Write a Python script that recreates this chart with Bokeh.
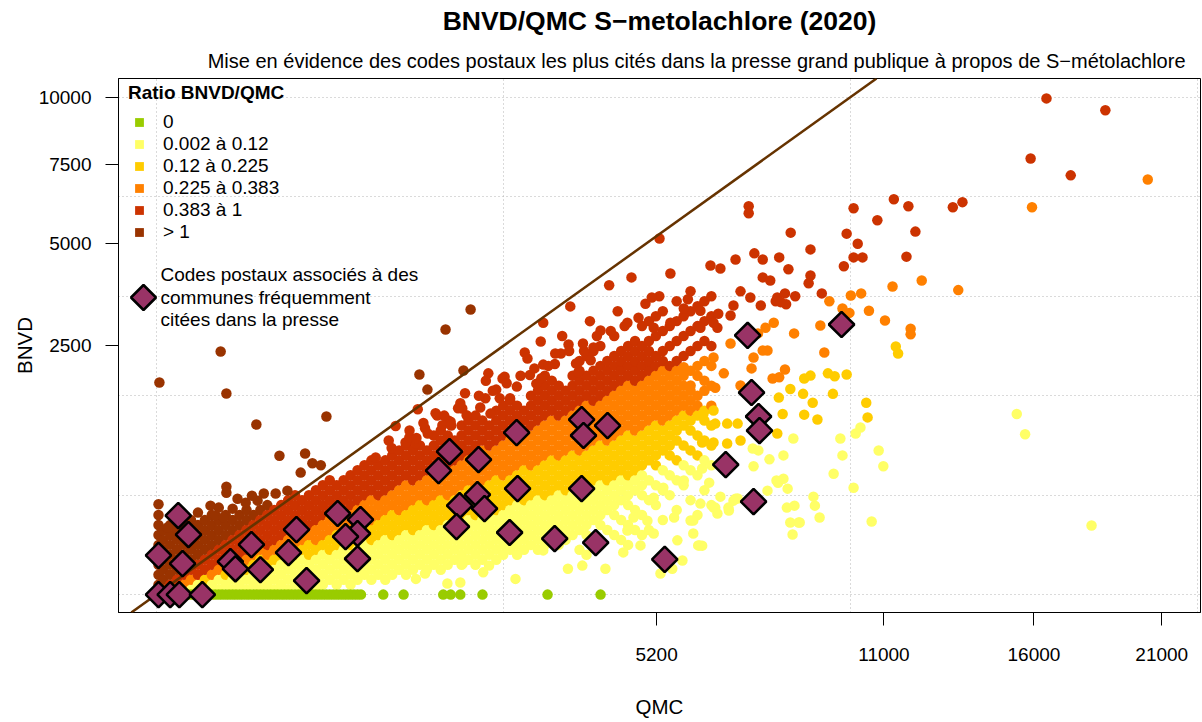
import numpy as np
from bokeh.plotting import figure
from bokeh.models import (ColumnDataSource, Range1d, FixedTicker, CustomJSTickFormatter,
                          Legend, LegendItem, Label, Slope, Title, PolyAnnotation)
from bokeh.embed import file_html
from bokeh.resources import INLINE

FONT = "Liberation Sans"

# ---------------- data ----------------
title_text = "BNVD/QMC S\u2212metolachlore (2020)"
subtitle_text = ("Mise en évidence des codes postaux les plus cités dans la presse "
                 "grand publique à propos de S\u2212métolachlore")
x_label = "QMC"
y_label = "BNVD"

ratio_labels = ["0", "0.002 à 0.12", "0.12 à 0.225", "0.225 à 0.383", "0.383 à 1", "> 1"]
ratio_breaks = [0.12, 0.225, 0.383, 1.0]
ratio_colors = ["#99CC00", "#FFFF66", "#FFCC00", "#FF8000", "#CC3300", "#993300"]
press_label = ["Codes postaux associés à des", "communes fréquemment", "citées dans la presse"]

x_tick_values = [5200, 11000, 16000, 21000]
y_tick_values = [2500, 5000, 7500, 10000]
x_grid_values = [0, 2500, 10000, 22500]
y_grid_values = [0, 400, 1600, 3600, 6400, 10000]

# postcodes with BNVD = 0 (QMC values)
zero_qmc = [0.3, 1, 2.3, 4, 6.3, 9, 12, 16, 20, 25, 30, 36, 42, 49, 56, 64, 72, 81, 90, 100,
            110, 121, 132, 144, 156, 169, 182, 196, 210, 225, 240, 256, 272, 289, 306, 324,
            342, 361, 380, 400, 420, 441, 462, 484, 506, 529, 552, 576, 600, 625, 650, 676,
            702, 729, 756, 784, 812, 841, 870, 1070, 1270, 1710, 1800, 1920, 2210, 3180, 4100]

# dense cloud: (QMC, [BNVD of the postcodes sharing about this QMC])
band_origin = [
    (0.1, [4, 16, 36, 64, 100, 144, 196]),
    (1, [1, 9, 25, 49, 81, 121, 169]),
    (4, [4, 16, 36, 64, 100, 144, 196]),
    (9, [1, 9, 25, 49, 81, 121, 169]),
    (16, [4, 16, 36, 64, 100, 144, 196]),
    (25, [1, 9, 25, 49, 81, 121, 169, 225]),
    (36, [4, 16, 36, 64, 100, 144, 196]),
    (49, [1, 9, 25, 49, 81, 121, 169, 225]),
    (64, [4, 16, 36, 64, 100, 144, 196, 256]),
    (81, [1, 9, 25, 49, 81, 121, 169, 225]),
    (100, [4, 16, 36, 64, 100, 144, 196, 256]),
    (121, [1, 9, 25, 49, 81, 121, 169, 225]),
    (144, [4, 16, 36, 64, 100, 144, 196, 256]),
    (169, [1, 9, 25, 49, 81, 121, 169, 225, 289]),
    (196, [4, 16, 36, 64, 100, 144, 196, 256]),
    (225, [1, 9, 25, 49, 81, 121, 169, 225, 289]),
    (256, [4, 16, 36, 64, 100, 144, 196, 256, 324]),
    (289, [1, 9, 25, 49, 81, 121, 169, 225, 289]),
    (324, [4, 16, 36, 64, 100, 144, 196, 256, 324]),
    (361, [1, 9, 25, 49, 81, 121, 169, 225, 289, 361]),
    (400, [4, 16, 36, 64, 100, 144, 196, 256, 324, 400]),
]
band_middle = [
    (441, [1, 9, 25, 49, 81, 121, 169, 225, 289, 361]),
    (484, [4, 16, 36, 64, 100, 144, 196, 256, 324, 400]),
    (529, [1, 9, 25, 49, 81, 121, 169, 225, 289, 361, 441]),
    (576, [4, 16, 36, 64, 100, 144, 196, 256, 324, 400, 484]),
    (625, [9, 25, 49, 81, 121, 169, 225, 289, 361, 441, 529]),
    (676, [4, 16, 36, 64, 100, 144, 196, 256, 324, 400, 484]),
    (729, [9, 25, 49, 81, 121, 169, 225, 289, 361, 441, 529]),
    (784, [4, 16, 36, 64, 100, 144, 196, 256, 324, 400, 484, 576]),
    (841, [9, 25, 49, 81, 121, 169, 225, 289, 361, 441, 529, 625]),
    (900, [16, 36, 64, 100, 144, 196, 256, 324, 400, 484, 576, 676]),
    (961, [9, 25, 49, 81, 121, 169, 225, 289, 361, 441, 529, 625, 729]),
    (1024, [16, 36, 64, 100, 144, 196, 256, 324, 400, 484, 576, 676]),
    (1089, [9, 25, 49, 81, 121, 169, 225, 289, 361, 441, 529, 625, 729]),
    (1156, [16, 36, 64, 100, 144, 196, 256, 324, 400, 484, 576, 676, 784]),
    (1225, [25, 49, 81, 121, 169, 225, 289, 361, 441, 529, 625, 729, 841]),
    (1296, [16, 36, 64, 100, 144, 196, 256, 324, 400, 484, 576, 676, 784, 900]),
    (1369, [25, 49, 81, 121, 169, 225, 289, 361, 441, 529, 625, 729, 841, 961]),
    (1444, [36, 64, 100, 144, 196, 256, 324, 400, 484, 576, 676, 784, 900]),
    (1521, [25, 49, 81, 121, 169, 225, 289, 361, 441, 529, 625, 729, 841]),
    (1600, [36, 64, 100, 144, 196, 256, 324, 400, 484, 576, 676, 784, 900, 1024]),
]
band_upper = [
    (1681, [25, 49, 81, 121, 169, 225, 289, 361, 441, 529, 625, 729, 841, 961, 1089]),
    (1764, [36, 64, 100, 144, 196, 256, 324, 400, 484, 576, 676, 784, 900, 1024]),
    (1849, [49, 81, 121, 169, 225, 289, 361, 441, 529, 625, 729, 841, 961]),
    (1936, [36, 64, 100, 144, 196, 256, 324, 400, 484, 576, 676, 784, 900, 1024, 1156]),
    (2025, [49, 81, 121, 169, 225, 289, 361, 441, 529, 625, 729, 841, 961, 1089, 1225]),
    (2116, [36, 64, 100, 144, 196, 256, 324, 400, 484, 576, 676, 784, 900, 1024, 1156, 1296]),
    (2209, [49, 81, 121, 169, 225, 289, 361, 441, 529, 625, 729, 841, 961, 1089, 1225]),
    (2304, [64, 100, 144, 196, 256, 324, 400, 484, 576, 676, 784, 900, 1024, 1156]),
    (2401, [49, 81, 121, 169, 225, 289, 361, 441, 529, 625, 729, 841, 961, 1089, 1225, 1369]),
    (2500, [64, 100, 144, 196, 256, 324, 400, 484, 576, 676, 784, 900, 1024, 1156, 1296, 1444]),
    (2601, [81, 121, 169, 225, 289, 361, 441, 529, 625, 729, 841, 961, 1089, 1225, 1369, 1521]),
    (2704, [64, 100, 144, 196, 256, 324, 400, 484, 576, 676, 784, 900, 1024, 1156, 1296, 1444]),
    (2809, [81, 121, 169, 225, 289, 361, 441, 529, 625, 729, 841, 961, 1089, 1225, 1369]),
    (2916, [100, 144, 196, 256, 324, 400, 484, 576, 676, 784, 900, 1024, 1156, 1296, 1444, 1600]),
    (3025, [81, 121, 169, 225, 289, 361, 441, 529, 625, 729, 841, 961, 1089, 1225, 1369, 1521, 1681]),
    (3136, [100, 144, 196, 256, 324, 400, 484, 576, 676, 784, 900, 1024, 1156, 1296, 1444, 1600, 1764, 1936]),
    (3249, [121, 169, 225, 289, 361, 441, 529, 625, 729, 841, 961, 1089, 1225, 1369, 1521, 1681, 1849]),
    (3364, [100, 144, 196, 256, 324, 400, 484, 576, 676, 784, 900, 1024, 1156, 1296, 1444, 1600, 1764]),
    (3481, [121, 169, 225, 289, 361, 441, 529, 625, 729, 841, 961, 1089, 1225, 1369, 1521, 1681]),
    (3600, [144, 196, 256, 324, 400, 484, 576, 676, 784, 900, 1024, 1156, 1296, 1444, 1600, 1764, 1936]),
]
band_sparse = [
    (3721, [81, 169, 225, 289, 361, 441, 529, 625, 729, 841, 961, 1089, 1225, 1369, 1521, 1681, 1849, 2025, 2209]),
    (3844, [64, 144, 196, 256, 324, 400, 484, 576, 676, 784, 900, 1024, 1156, 1296, 1444, 1600, 1764, 1936, 2304]),
    (3969, [121, 225, 289, 361, 441, 529, 625, 729, 841, 961, 1089, 1225, 1369, 1521, 1681, 1849, 2025, 2401]),
    (4096, [100, 196, 256, 324, 400, 484, 576, 676, 784, 900, 1024, 1156, 1296, 1444, 1600, 1764, 1936, 2116, 2500]),
    (4225, [169, 289, 361, 441, 529, 625, 729, 841, 961, 1089, 1225, 1369, 1521, 1681, 1849, 2025, 2209]),
    (4356, [144, 256, 324, 400, 484, 576, 676, 784, 900, 1024, 1156, 1296, 1444, 1600, 1764, 1936, 2116, 2304, 2704]),
    (4489, [121, 225, 361, 441, 529, 625, 729, 841, 961, 1089, 1225, 1369, 1521, 1681, 1849, 2025, 2209, 2401]),
    (4624, [100, 196, 324, 400, 484, 576, 676, 784, 900, 1024, 1156, 1296, 1444, 1600, 1764, 1936, 2116, 2304, 2500]),
    (4761, [169, 289, 441, 529, 625, 729, 841, 961, 1089, 1225, 1369, 1521, 1681, 1849, 2025, 2209, 2401, 2601]),
    (4900, [144, 256, 400, 484, 576, 676, 784, 900, 1024, 1156, 1296, 1444, 1600, 1764, 1936, 2116, 2304, 2500, 2916]),
    (5041, [169, 361, 529, 729, 841, 961, 1089, 1225, 1369, 1521, 1681, 1849, 2025, 2209, 2401, 2601, 3025]),
    (5184, [324, 484, 676, 784, 900, 1024, 1156, 1296, 1444, 1600, 1764, 1936, 2116, 2304, 2704, 3136]),
    (5329, [225, 441, 625, 841, 961, 1089, 1225, 1369, 1521, 1681, 1849, 2025, 2209, 2401, 2809, 3249]),
    (5476, [400, 576, 784, 900, 1024, 1156, 1296, 1444, 1600, 1764, 1936, 2116, 2500, 2916]),
    (5625, [289, 529, 729, 961, 1089, 1225, 1369, 1521, 1681, 1849, 2025, 2209, 2601, 3025, 3481]),
    (5776, [484, 676, 900, 1156, 1296, 1444, 1600, 1764, 1936, 2304, 2704, 3136]),
    (5929, [361, 625, 841, 1089, 1225, 1369, 1521, 1681, 2025, 2401, 2809, 3249, 3721]),
    (6084, [256, 576, 784, 1024, 1296, 1444, 1600, 1936, 2116, 2500, 2916, 3364]),
    (6241, [441, 729, 961, 1225, 1369, 1681, 1849, 2209, 2601, 3025, 3481]),
    (6400, [324, 676, 900, 1156, 1444, 1764, 2116, 2500, 3136, 3600]),
]

# isolated postcodes (QMC, BNVD)
pts_above = [
    (0.2, 1820), (86, 2390), (102, 1635), (208, 1170), (601, 1283), (1738, 2843), (2052, 3288),
    (1438, 1959), (1527, 1700), (1960, 2030), (315, 780), (460, 805), (506, 697), (433, 602),
    (562, 676), (102, 470), (102, 420), (0.1, 330), (240, 413), (296, 413), (357, 437), (36, 272),
    (73, 253), (166, 342), (213, 357), (121, 299), (81, 306), (61, 320), (137, 372), (190, 396),
    (94, 240), (12, 253), (2.6, 182), (20, 210), (0.1, 256),
    (1190, 1150), (1420, 1390), (1400, 924), (1290, 935), (1530, 1050), (1640, 1296), (1770, 1225),
    (1945, 1400), (2180, 1415), (2320, 1325), (1620, 1330), (1800, 1210), (1920, 1480),
    (2290, 1980), (2490, 1890), (2520, 1920), (3110, 2990), (3070, 2590), (3530, 2530),
    (2820, 2370), (3110, 2140), (3560, 3360), (4100, 2820), (3970, 2470), (3920, 2220),
    (1000, 760), (1150, 870), (1330, 1000), (1500, 1120), (1700, 1160), (2000, 1300), (2250, 1560),
    (2400, 1700), (2700, 1750), (2900, 1950), (3300, 2150), (3400, 2350), (2600, 1560),
    (3000, 1800), (3700, 2000), (3800, 2400),
    (1122, 961), (1332, 1089), (1482, 1190), (1722, 1296), (1892, 1406), (2162, 1600),
    (2352, 1681), (2550, 1806), (2756, 1936), (2970, 2070), (3192, 2116), (3306, 2352),
    (3540, 2401), (3782, 2550), (4032, 2704), (4290, 2809), (4556, 2916), (1980, 1640),
    (2256, 1849), (2862, 2256), (3422, 2704), (3906, 3025), (4422, 3249), (4970, 3422),
    (5256, 3600), (1406, 992), (1806, 1156), (2450, 1560), (3080, 1892), (3660, 2162),
]
pts_right_red = [
    (7290, 6100), (7290, 5880), (8360, 5300), (7430, 4710), (7640, 4540), (6970, 4540),
    (6380, 4380), (6610, 4300), (8060, 4600), (8300, 4280), (8890, 4820), (9900, 5270),
    (10100, 6040), (10220, 4980), (10100, 4600), (10360, 4600), (9820, 4360), (10800, 5670),
    (11300, 6320), (11750, 6100), (11970, 5330), (11690, 4620), (13180, 6070), (13500, 6230),
    (16460, 9960), (18710, 9490), (15880, 7690), (17370, 7110), (7090, 3720), (7640, 4070),
    (7830, 3990), (8010, 3570), (8210, 3670), (8480, 3600), (6920, 3380), (6850, 3150),
    (6150, 3260), (6560, 3190), (7330, 3570), (7590, 3380), (7970, 3480), (8240, 3410),
    (5780, 3310), (5490, 2990), (4830, 3100), (5140, 2880), (4610, 2990), (6150, 2880),
    (6450, 2990), (6540, 2880), (5490, 4170), (5100, 3570), (5870, 3530), (8890, 4120),
    (8840, 3920), (9200, 3670), (8100, 3460), (4260, 3870), (4690, 4070), (5260, 5130),
]
pts_right_orange = [
    (20420, 6970), (15930, 6070), (11260, 3840), (12170, 3990), (13360, 3750), (10550, 3260),
    (11030, 3040), (11820, 2860), (11820, 2740), (9160, 2930), (9270, 2370), (8450, 2760),
    (10020, 3620), (10320, 3670), (9410, 3480), (9980, 3210), (9780, 3310), (7920, 2990),
    (7710, 2880), (7520, 2760), (7760, 2410), (7410, 2275), (8210, 2050), (8060, 1910),
    (5780, 2090), (5930, 1770), (6450, 2275), (6690, 1980), (6850, 2550), (7090, 1770),
    (7360, 2070), (7640, 2410), (7890, 1890), (6490, 1730),
]
pts_right_gold = [
    (11360, 2490), (11430, 2350), (10470, 1490), (10510, 1270), (9900, 1960), (9560, 1930),
    (9370, 1980), (9510, 1630), (9080, 1240), (8950, 1490), (8720, 1310), (8690, 1630),
    (8350, 1710), (8150, 1320), (8050, 1570), (8890, 1940), (8720, 1890), (8010, 1050),
    (7020, 1183), (6770, 1183), (6450, 1370), (6490, 1183), (6220, 1325), (7090, 960),
    (6190, 935), (6450, 935), (6770, 923),
]
pts_right_yellow = [
    (15380, 1320), (15680, 1040), (18170, 193), (10840, 840), (10980, 666), (10630, 216),
    (10100, 462), (9780, 784), (9720, 986), (10160, 1050), (10300, 1130), (9530, 590),
    (9140, 240), (9010, 320), (8970, 388), (8570, 210), (8410, 146), (8350, 210), (8170, 784),
    (8430, 986), (8030, 506), (8170, 543), (8280, 454), (7810, 740), (7760, 437), (7530, 841),
    (7410, 666), (6130, 98), (6610, 388), (6810, 286), (6450, 306), (6970, 372), (5990, 222),
    (8600, 210), (8460, 320), (8260, 306), (7990, 526), (7020, 373), (6350, 507), (6190, 643),
    (6490, 306), (6800, 306), (6190, 97), (7390, 863),
]
pts_low = [
    (1400, 10), (1760, 5), (2680, 10), (3520, 27), (3770, 34), (4190, 27), (4530, 72), (4870, 98),
    (5280, 18), (5530, 27), (5750, 47), (6100, 98), (5930, 222), (1950, 39), (2220, 20), (1920, 6),
    (1500, 18), (2300, 34), (3110, 79), (4610, 166), (4730, 240), (5010, 221), (5140, 151),
    (5640, 119), (5570, 240), (5990, 151), (6150, 335), (6540, 266), (6920, 357), (5140, 380),
    (5340, 462), (5780, 526),
]

# postcodes of towns frequently cited in the press
press_qmc = [0.1, 4, 11, 44, 0.1, 10, 21.5, 14.3, 114, 130, 188, 225, 408, 363, 469, 683, 866,
             841, 744, 841, 1655, 1786, 2157, 1911, 2142, 2238, 1872, 2593, 2697, 2711, 3297,
             3758, 3791, 4230, 3758, 4010, 5370, 6735, 7264, 7360, 7535, 7558, 7410, 9755]
press_bnvd = [0, 0, 0, 0, 62, 253, 146, 39, 44, 27, 101, 25, 171, 71, 8, 266, 228, 151, 136, 52,
              622, 828, 738, 321, 405, 299, 187, 156, 1062, 455, 127, 1240, 1024, 1156, 455, 109,
              50, 684, 2716, 1652, 1283, 1089, 350, 2951]

# ---------------- assemble ----------------
qmc, bnvd = [], []
for group in (band_origin, band_middle, band_upper, band_sparse):
    for q, bs in group:
        for b in bs:
            qmc.append(q)
            bnvd.append(b)
for group in (pts_above, pts_right_red, pts_right_orange, pts_right_gold, pts_right_yellow, pts_low):
    for q, b in group:
        qmc.append(q)
        bnvd.append(b)
qmc += zero_qmc
bnvd += [0] * len(zero_qmc)

qmc = np.array(qmc, dtype=float)
bnvd = np.array(bnvd, dtype=float)
ratio = bnvd / qmc
cls = np.where(bnvd == 0, 0, 1 + np.searchsorted(ratio_breaks, ratio, side="left"))
colors = [ratio_colors[c] for c in cls]

src = ColumnDataSource(dict(x=np.sqrt(qmc), y=np.sqrt(bnvd), color=colors,
                            qmc=qmc, bnvd=bnvd))
press_src = ColumnDataSource(dict(x=np.sqrt(press_qmc), y=np.sqrt(press_bnvd)))

# ---------------- figure ----------------
p = figure(width=1202, height=722, output_backend="svg", toolbar_location=None,
           x_range=Range1d(-5.45, 150.5), y_range=Range1d(-3.6, 103.8),
           min_border_left=118, min_border_right=2, min_border_top=78, min_border_bottom=110,
           title=title_text)
p.background_fill_color = "white"
p.border_fill_color = "white"
p.outline_line_color = "black"
p.outline_line_width = 1

p.title.align = "center"
p.title.vertical_align = "top"
p.title.text_font = FONT
p.title.text_font_size = "26.5px"
p.title.text_font_style = "bold"
p.title.text_color = "black"
p.title.standoff = 6
p.add_layout(Title(text=subtitle_text, align="right", offset=15, vertical_align="bottom",
                   text_font=FONT, text_font_size="20px", text_font_style="normal",
                   text_color="black", standoff=14), "above")

fmt = CustomJSTickFormatter(code="return String(Math.round(tick * tick));")
p.xaxis.ticker = FixedTicker(ticks=list(np.sqrt(x_tick_values)))
p.yaxis.ticker = FixedTicker(ticks=list(np.sqrt(y_tick_values)))
p.xaxis.formatter = fmt
p.yaxis.formatter = fmt
p.xgrid.ticker = FixedTicker(ticks=list(np.sqrt(x_grid_values)))
p.ygrid.ticker = FixedTicker(ticks=list(np.sqrt(y_grid_values)))
for g in (p.xgrid, p.ygrid):
    g.grid_line_color = "#B4B4B4"
    g.grid_line_dash = "1 3"
    g.grid_line_width = 1

p.xaxis.axis_label = x_label
p.yaxis.axis_label = y_label
for ax in (p.xaxis, p.yaxis):
    ax.axis_line_color = "black"
    ax.major_tick_line_color = "black"
    ax.major_tick_out = 13
    ax.major_tick_in = 0
    ax.minor_tick_line_color = None
    ax.major_label_text_font = FONT
    ax.major_label_text_font_size = "19px"
    ax.major_label_text_color = "black"
    ax.axis_label_text_font = FONT
    ax.axis_label_text_font_size = "20.5px"
    ax.axis_label_text_font_style = "normal"
    ax.axis_label_text_color = "black"
p.xaxis.major_label_standoff = 22
p.xaxis.axis_label_standoff = 31
p.yaxis.major_label_standoff = 14
p.yaxis.axis_label_standoff = 0

# legend key renderers (not drawn in the plot area: NaN position)
legend_items = []
for lab, col in zip(ratio_labels, ratio_colors):
    r = p.scatter(x=[np.nan], y=[np.nan], marker="square", size=9, fill_color=col, line_color=None)
    legend_items.append(LegendItem(label=lab, renderers=[r]))

# points
p.scatter("x", "y", source=src, size=10.5, fill_color="color", line_color=None)

# ratio = 1 line
p.add_layout(Slope(gradient=1, y_intercept=0, line_color="#663300", line_width=2.5))

# press diamonds
pr = p.scatter("x", "y", source=press_src, marker="square", angle=np.pi / 4, size=18,
               fill_color="#993366", line_color="black", line_width=2.5)
pr.level = "overlay"

leg = Legend(items=legend_items, location=(10, 369), title="Ratio BNVD/QMC",
             title_text_font=FONT, title_text_font_size="19px", title_text_font_style="bold",
             title_text_color="black", title_standoff=7,
             label_text_font=FONT, label_text_font_size="19px", label_text_color="black",
             glyph_width=22, glyph_height=22, label_height=22, spacing=0, padding=0, margin=0,
             label_standoff=13, border_line_color=None, background_fill_alpha=0)
p.add_layout(leg)

# legend key for the press diamonds (screen offsets from the plot frame)
p.add_layout(PolyAnnotation(xs=[25, 37.5, 25, 12.5], ys=[327.5, 315, 302.5, 315],
                            xs_units="screen", ys_units="screen",
                            fill_color="#993366", fill_alpha=1.0,
                            line_color="black", line_alpha=1.0, line_width=2.5))

for txt, yy in zip(press_label, (338, 315, 293)):
    p.add_layout(Label(x=42, y=yy, x_units="screen", y_units="screen", text=txt,
                       text_font=FONT, text_font_size="19px", text_color="black",
                       text_align="left", text_baseline="middle"))

open("out.html", "w").write(file_html(p, INLINE, title="BNVD/QMC S-metolachlore (2020)"))
